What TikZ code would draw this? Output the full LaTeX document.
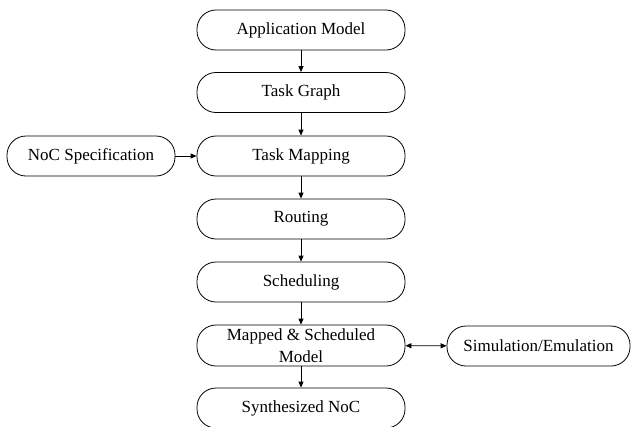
\documentclass[tikz,border=0pt]{standalone}
\usepackage{fontspec}
\setmainfont{Liberation Serif}
\usetikzlibrary{arrows.meta}
\begin{document}
\begin{tikzpicture}[x=1pt,y=-1pt,
  stadium/.style={draw, line width=0.8pt, rounded corners=19pt, minimum height=40pt, inner sep=0pt, align=center, font=\fontsize{17}{22}\selectfont},
  flow/.style={draw, line width=0.8pt, -{Triangle[length=6pt,width=5pt]}},
  both/.style={draw, line width=0.8pt, {Triangle[length=6pt,width=5pt]}-{Triangle[length=6pt,width=5pt]}}]
\useasboundingbox (0,0) rectangle (632,426);
\node[stadium, minimum width=208pt] (app) at (301,30) {Application Model};
\node[stadium, minimum width=208pt] (tg) at (301,92.5) {Task Graph};
\node[stadium, minimum width=208pt] (tm) at (301,156) {Task Mapping};
\node[stadium, minimum width=208pt] (rt) at (301,219) {Routing};
\node[stadium, minimum width=208pt] (sc) at (301,282) {Scheduling};
\node[stadium, minimum width=208pt, minimum height=41pt] (ms) at (301,345.5) {Mapped \& Scheduled\\Model};
\node[stadium, minimum width=208pt] (sn) at (301,408) {Synthesized NoC};
\node[stadium, minimum width=168pt] (noc) at (91,156) {NoC Specification};
\node[stadium, minimum width=183pt] (sim) at (538.5,346) {Simulation/Emulation};
\draw[flow] (app) -- (tg);
\draw[flow] (tg) -- (tm);
\draw[flow] (tm) -- (rt);
\draw[flow] (rt) -- (sc);
\draw[flow] (sc) -- (ms);
\draw[flow] (ms) -- (sn);
\draw[flow] (noc) -- (tm);
\draw[both] (ms) -- (sim);
\end{tikzpicture}
\end{document}
